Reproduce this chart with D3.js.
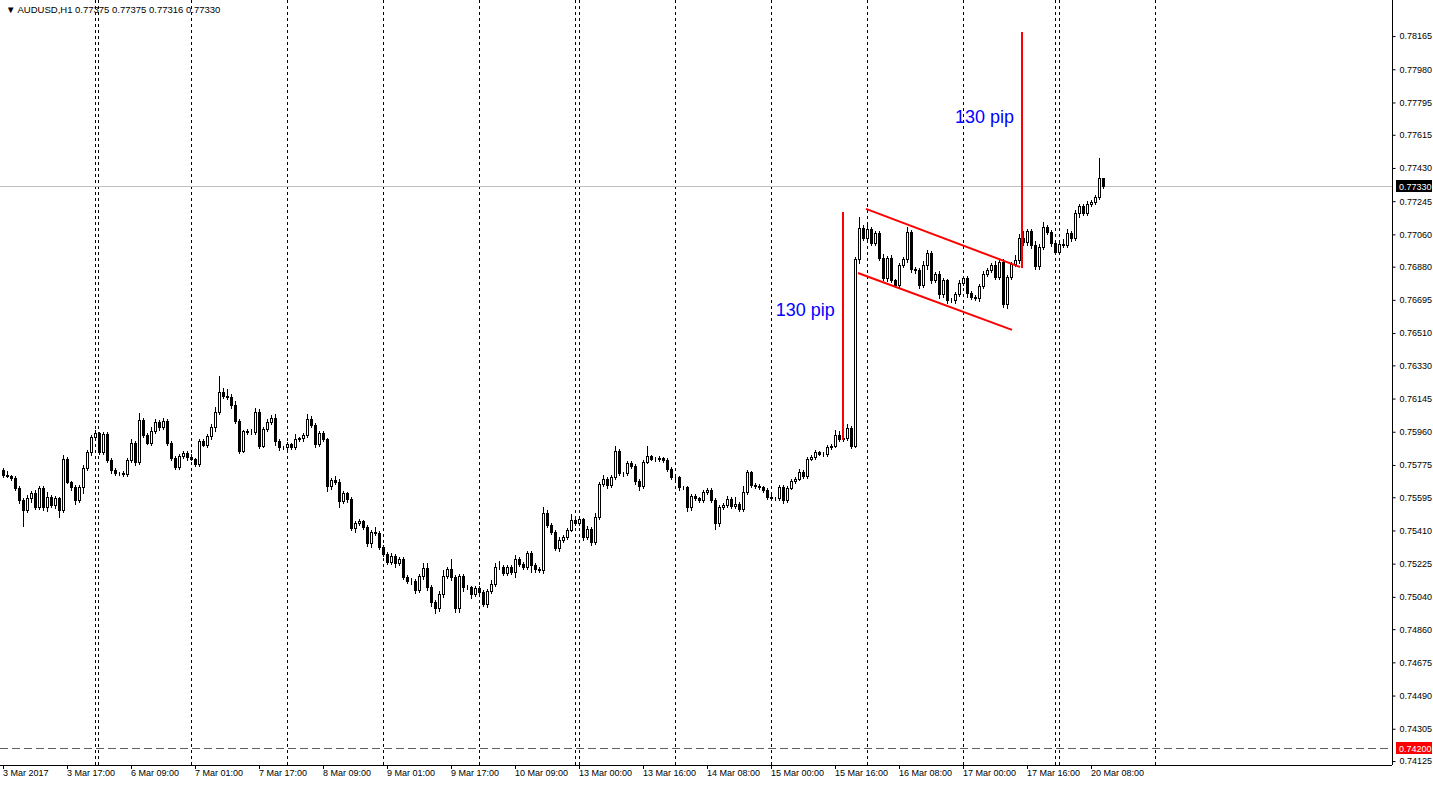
<!DOCTYPE html>
<html>
<head>
<meta charset="utf-8">
<script src="https://cdn.jsdelivr.net/npm/d3@7"></script>
<style>
  body { margin: 0; background: #fff; }
  svg text { font-family: "Liberation Sans", Arial, sans-serif; font-size: 9px; }
</style>
</head>
<body>
<svg id="chart" width="1433" height="785"></svg>
<script>
// close prices in points (1e-5), one per H1 bar from 3 Mar 2017 01:00
const closes = [
  75719,75714,75703,75647,75580,75524,75591,75619,75541,75647,
  75541,75597,75552,75591,75524,75808,75680,75652,75580,75652,
  75758,75847,75931,75953,75847,75948,75803,75747,75730,75732,
  75725,75803,75898,75792,76026,75942,75898,75964,76015,75987,
  76020,75898,75814,75764,75825,75842,75820,75808,75781,75909,
  75886,75937,75987,76070,76182,76160,76154,76109,76020,75853,
  75964,75959,75961,76070,75881,75976,76015,76037,75909,75875,
  75873,75892,75875,75920,75925,75942,76031,75998,75892,75953,
  75920,75658,75691,75680,75574,75619,75586,75424,75452,75463,
  75430,75340,75402,75396,75318,75279,75235,75268,75229,75251,
  75151,75129,75127,75079,75157,75201,75095,75012,74978,75056,
  75157,75196,75151,74978,75157,75095,75093,75056,75090,75067,
  75000,75073,75112,75207,75209,75173,75207,75179,75251,75223,
  75205,75285,75218,75196,75190,75508,75441,75402,75312,75357,
  75374,75413,75469,75452,75474,75374,75418,75346,75485,75669,
  75697,75664,75708,75853,75730,75728,75786,75769,75686,75658,
  75792,75825,75808,75806,75814,75803,75753,75708,75706,75652,
  75650,75541,75602,75591,75580,75625,75636,75580,75452,75541,
  75552,75586,75547,75558,75530,75625,75736,75664,75658,75652,
  75636,75597,75591,75589,75652,75580,75647,75686,75697,75736,
  75714,75808,75820,75847,75836,75834,75875,75881,75942,75920,
  75925,75981,75881,76923,77096,77040,77090,77012,77068,76928,
  76817,76928,76806,76778,76889,76923,77073,76867,76862,76778,
  76889,76956,76806,76839,76728,76806,76694,76692,76728,76789,
  76817,76733,76711,76705,76772,76839,76862,76889,76823,76906,
  76672,76823,76895,76917,77040,77018,77079,77001,76884,76990,
  77101,77073,77012,76960,77005,76998,77068,77040,77179,77218,
  77179,77229,77240,77268,77375,77330
];
const firstOpen = 75747;
// upper / lower wick lengths in points
const upperWick = [
  12,20,6,8,12,10,18,10,14,12, 8,25,10,12,8,20,10,8,14,10,
  15,10,12,18,8,10,12,8,10,6, 8,10,20,10,40,12,10,20,18,8,
  15,10,8,10,10,8,10,15,8,12, 8,10,15,30,90,20,40,15,25,10,
  6,10,12,20,15,12,18,15,20,10, 8,10,8,30,8,10,30,15,10,12,
  10,8,10,20,15,12,8,10,8,10, 8,10,12,25,12,10,10,14,10,10,
  10,8,15,10,12,30,25,10,12,14, 30,12,55,10,10,10,12,8,10,10,
  10,10,20,20,30,10,12,10,20,10, 14,12,10,10,12,30,15,10,10,15,
  10,10,30,15,10,8,15,10,20,10, 20,10,10,25,10,8,12,10,10,12,
  10,55,8,10,10,8,10,10,8,10, 8,10,10,10,8,10,12,10,10,10,
  10,15,10,40,10,30,12,8,10,10, 8,8,10,8,12,10,10,8,12,15,
  10,12,8,10,8,10,10,10,30,20, 10,20,10,10,60,15,20,10,10,10,
  20,10,15,8,10,10,30,12,10,10, 25,15,10,10,15,10,8,10,10,15,
  8,10,10,10,10,15,10,10,20,10, 15,10,10,30,20,40,10,10,20,15,
  30,10,10,15,20,30,20,10,15,10, 10,15,12,10,110,0
];
const lowerWick = [
  10,8,10,12,15,90,10,20,12,10, 15,20,10,15,40,10,8,15,20,12,
  35,10,15,10,10,12,10,15,10,10, 10,10,12,20,10,10,8,10,10,15,
  12,10,10,12,10,10,15,8,10,10, 8,10,15,25,12,10,10,15,10,10,
  8,10,10,15,10,8,12,10,20,15, 10,10,12,10,10,15,10,10,15,10,
  10,30,15,10,35,10,20,10,25,12, 10,15,20,12,10,10,12,10,20,10,
  12,10,15,20,10,15,15,25,30,15, 15,10,15,20,25,20,10,20,10,15,
  10,15,10,10,10,12,12,10,30,12, 10,10,40,15,12,15,10,10,12,15,
  10,10,8,10,10,15,10,15,10,10, 10,15,10,10,12,12,10,10,15,20,
  10,8,8,10,10,10,12,10,10,15, 10,25,15,10,10,12,10,12,35,15,
  10,10,10,10,12,10,10,10,10,10, 10,10,8,10,10,15,12,8,10,8,
  10,10,8,10,8,8,10,10,8,10, 10,10,10,8,20,10,15,10,10,10,
  10,15,10,10,12,10,15,15,20,15, 10,20,15,10,20,15,15,10,15,10,
  10,20,10,10,15,10,10,10,10,10, 15,20,10,10,15,20,15,15,15,15,
  10,10,15,10,10,10,10,15,10,20, 10,10,10,10,10,14
];
const priceTicks = [0.78165,0.77980,0.77795,0.77615,0.77430,0.77245,0.77060,0.76880,0.76695,
  0.76510,0.76330,0.76145,0.75960,0.75775,0.75595,0.75410,0.75225,0.75040,0.74860,0.74675,
  0.74490,0.74305,0.74125];
const currentPrice = 0.77330;
const alertPrice = 0.74200;
// drawn objects: [bar, price]
const poleLines = [[[210, 0.77185], [210, 0.75914]], [[254.75, 0.78188], [254.75, 0.76873]]];
const channelLines = [[[215.75, 0.77202], [254.25, 0.76878]], [[213.75, 0.76845], [252.25, 0.76528]]];
const pipLabels = [[193.2, 0.76607, "130 pip"], [238, 0.77682, "130 pip"]];

const W = 1392, H = 765;
const svg = d3.select("#chart");
const x = d3.scaleLinear().domain([0, 1]).range([3, 7]);
const y = d3.scaleLinear().domain([0.78366, 0.74103]).range([0, H]);

// bar times: broker sessions (Sunday 23:00 bar after the DST switch, short Friday on 17 Mar)
const times = [];
let t = Date.UTC(2017, 2, 3, 1);
while (times.length < 292) {
  const d = new Date(t);
  const day = d.getUTCDay(), hr = d.getUTCHours(), date = d.getUTCDate();
  let keep = day >= 1 && day <= 5;
  if (day === 5 && hr === 23 && date === 17) keep = false;
  if (day === 0 && hr === 23 && date >= 12) keep = true;
  if (keep) times.push(d);
  t += 3600000;
}
const bars = closes.map((c, i) => {
  const o = i === 0 ? firstOpen : closes[i - 1];
  return { i, o: o / 1e5, c: c / 1e5,
    h: (Math.max(o, c) + upperWick[i]) / 1e5, l: (Math.min(o, c) - lowerWick[i]) / 1e5 };
});

// period separators at the first bar of each date
times.forEach((d, i) => {
  if (i === 0 || d.getUTCDate() === times[i - 1].getUTCDate()) return;
  const xs = [Math.round(x(i))];
  if (d.getUTCDay() === 1 && times[i - 1].getUTCDay() === 5) xs.push(Math.round(x(i)) + 3);
  xs.forEach(px => svg.append("line")
    .attr("x1", px + 0.5).attr("x2", px + 0.5).attr("y1", 0).attr("y2", H)
    .attr("stroke", "#000").attr("stroke-dasharray", "3,3"));
});

// current & alert lines
svg.append("line").attr("x1", 0).attr("x2", W).attr("y1", Math.round(y(currentPrice)) + 0.5)
  .attr("y2", Math.round(y(currentPrice)) + 0.5).attr("stroke", "#c0c0c0");
svg.append("line").attr("x1", 0).attr("x2", W).attr("y1", Math.round(y(alertPrice)) + 0.5)
  .attr("y2", Math.round(y(alertPrice)) + 0.5).attr("stroke", "#606060").attr("stroke-dasharray", "8,4");

// candles
const g = svg.append("g").attr("shape-rendering", "crispEdges");
bars.forEach(b => {
  const cx = Math.round(x(b.i));
  g.append("line").attr("x1", cx + 0.5).attr("x2", cx + 0.5)
    .attr("y1", Math.round(y(b.h))).attr("y2", Math.round(y(b.l)) + 1).attr("stroke", "#000");
  const top = Math.round(y(Math.max(b.o, b.c))), bot = Math.round(y(Math.min(b.o, b.c)));
  g.append("rect").attr("x", cx - 0.5).attr("width", 2)
    .attr("y", top + 0.5).attr("height", Math.max(0, bot - top))
    .attr("fill", b.c >= b.o ? "#fff" : "#000").attr("stroke", "#000");
});

// red drawings
poleLines.concat(channelLines).forEach(l => {
  svg.append("line").attr("x1", x(l[0][0])).attr("y1", y(l[0][1]))
    .attr("x2", x(l[1][0])).attr("y2", y(l[1][1])).attr("stroke", "#ff0000").attr("stroke-width", 2);
});
pipLabels.forEach(p => {
  svg.append("text").attr("x", x(p[0])).attr("y", y(p[1])).text(p[2])
    .style("font-size", "18px").attr("fill", "#0000ff");
});

// frame
svg.append("line").attr("x1", W + 0.5).attr("x2", W + 0.5).attr("y1", 0).attr("y2", H).attr("stroke", "#000");
svg.append("line").attr("x1", 0).attr("x2", W).attr("y1", H + 0.5).attr("y2", H + 0.5).attr("stroke", "#000");

// price axis
const ya = svg.append("g").attr("transform", `translate(${W + 0.5},0)`)
  .call(d3.axisRight(y).tickValues(priceTicks).tickSize(3).tickFormat(d3.format(".5f")));
ya.select(".domain").remove();
ya.selectAll("text").attr("x", 7).style("font-size", "9px")
  .style("font-family", "Liberation Sans, Arial, sans-serif");

[[currentPrice, "#000", "#fff"], [alertPrice, "#ff0000", "#fff"]].forEach(([p, bg, fg]) => {
  const py = Math.round(y(p));
  svg.append("rect").attr("x", W + 4).attr("y", py - 6).attr("width", 36).attr("height", 12).attr("fill", bg);
  svg.append("text").attr("x", W + 7).attr("y", py + 3.5).attr("fill", fg).text(p.toFixed(5));
});

// time axis
const fmt = d3.utcFormat("%-d %b %H:%M");
for (let i = 0; i < closes.length; i += 16) {
  const px = Math.round(x(i));
  svg.append("line").attr("x1", px + 0.5).attr("x2", px + 0.5).attr("y1", H).attr("y2", H + 4).attr("stroke", "#000");
  svg.append("text").attr("x", px).attr("y", H + 11)
    .text(i === 0 ? "3 Mar 2017" : fmt(times[i]));
}

// header
const last = bars[bars.length - 1];
svg.append("text").attr("x", 6).attr("y", 13).style("font-size", "9.5px")
  .text(`▼ AUDUSD,H1  ${last.o.toFixed(5)} ${last.h.toFixed(5)} ${last.l.toFixed(5)} ${last.c.toFixed(5)}`);
</script>
</body>
</html>
